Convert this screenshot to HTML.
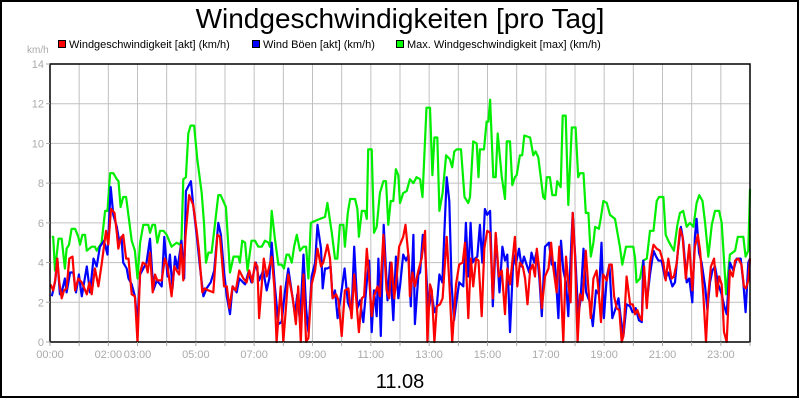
<!DOCTYPE html>
<html><head><meta charset="utf-8"><style>
html,body{margin:0;padding:0;background:#fff;}
svg{display:block;font-family:"Liberation Sans",sans-serif;}
</style></head><body>
<svg id="chart" width="800" height="400" viewBox="0 0 800 400" xmlns="http://www.w3.org/2000/svg">
<rect x="0" y="0" width="800" height="400" fill="#fff"/>
<rect x="1" y="1" width="797" height="396" fill="none" stroke="#000" stroke-width="2"/>
<text x="400" y="28" font-size="28" text-anchor="middle" fill="#000">Windgeschwindigkeiten [pro Tag]</text>
<g font-size="11" fill="#000">
 <g><rect x="58.5" y="40.5" width="7" height="7" fill="#f00" stroke="#000"/><text x="69" y="48">Windgeschwindigkeit [akt] (km/h)</text></g>
 <g><rect x="252.5" y="40.5" width="7" height="7" fill="#00f" stroke="#000"/><text x="263" y="48">Wind Böen [akt] (km/h)</text></g>
 <g><rect x="396.5" y="40.5" width="7" height="7" fill="#0f0" stroke="#000"/><text x="407" y="48">Max. Windgeschwindigkeit [max] (km/h)</text></g>
</g>
<text x="27" y="53" font-size="10" fill="#aaa">km/h</text>
<g id="grid"></g>
<g id="series"></g>
<rect x="50" y="64" width="700" height="278" fill="none" stroke="#000" stroke-width="1.5"/>
<g id="axes"></g>
<text x="400" y="388" font-size="20" text-anchor="middle" fill="#000">11.08</text>
</svg>
<script>
const yTicks=[0,2,4,6,8,10,12,14];
const xTickHours=[0,2,3,5,7,9,11,13,15,17,19,21,23];
const xTickLabels=["00:00","02:00","03:00","05:00","07:00","09:00","11:00","13:00","15:00","17:00","19:00","21:00","23:00"];
const maxTimes=[0.06,0.11,0.17,0.29,0.4,0.51,0.57,0.65,0.74,0.86,0.97,1.03,1.11,1.2,1.26,1.43,1.54,1.6,1.77,1.89,1.97,2.06,2.17,2.29,2.35,2.42,2.51,2.61,2.8,2.91,3.0,3.09,3.2,3.37,3.43,3.51,3.6,3.68,3.77,3.89,4.0,4.17,4.34,4.46,4.51,4.57,4.66,4.74,4.82,4.94,5.05,5.2,5.28,5.35,5.43,5.54,5.66,5.77,5.85,6.03,6.17,6.29,6.46,6.51,6.59,6.69,6.77,6.91,7.03,7.14,7.26,7.37,7.49,7.54,7.6,7.71,7.83,7.94,8.02,8.11,8.19,8.29,8.37,8.46,8.57,8.69,8.78,8.86,8.94,9.09,9.26,9.43,9.51,9.66,9.77,9.85,9.94,10.06,10.11,10.21,10.29,10.46,10.54,10.59,10.69,10.8,10.86,10.91,11.03,11.11,11.2,11.31,11.43,11.52,11.6,11.68,11.77,11.86,11.94,12.0,12.11,12.23,12.34,12.46,12.57,12.69,12.77,12.91,13.03,13.11,13.18,13.28,13.35,13.46,13.58,13.71,13.79,13.86,13.94,14.09,14.21,14.34,14.4,14.51,14.63,14.69,14.74,14.88,14.97,15.03,15.09,15.2,15.28,15.35,15.49,15.6,15.66,15.77,15.85,15.94,16.0,16.11,16.19,16.26,16.46,16.57,16.65,16.74,16.91,16.97,17.03,17.14,17.22,17.34,17.39,17.51,17.58,17.68,17.77,17.89,18.02,18.11,18.17,18.29,18.37,18.46,18.54,18.63,18.69,18.82,18.89,18.97,19.09,19.2,19.37,19.54,19.62,19.75,20.0,20.06,20.11,20.23,20.34,20.46,20.57,20.69,20.8,20.88,21.03,21.11,21.2,21.31,21.39,21.51,21.6,21.71,21.83,21.94,22.06,22.17,22.26,22.37,22.46,22.57,22.69,22.8,22.94,23.03,23.18,23.31,23.49,23.58,23.77,23.85,23.94,24.0];
const maxValues=[5.3,5.3,3.6,5.2,5.2,3.7,4.7,4.9,5.7,5.7,5.3,4.9,5.4,5.4,4.6,4.8,4.8,4.6,5.0,6.6,6.6,8.5,8.5,8.2,8.1,6.8,7.3,7.3,5.1,4.6,3.2,5.0,5.9,5.9,5.5,5.9,5.9,5.0,5.6,5.6,5.4,4.8,5.0,4.9,5.2,8.2,8.3,10.5,10.9,10.9,9.2,7.5,6.0,4.0,4.5,4.5,6.0,7.4,7.4,6.8,3.5,4.3,4.3,4.0,5.1,5.0,3.6,5.1,5.1,4.8,4.8,5.1,5.0,4.8,6.6,5.2,3.9,3.9,3.7,4.4,4.4,4.0,4.8,5.4,4.6,4.8,4.8,3.2,6.0,6.1,6.2,6.3,7.0,5.5,4.2,4.2,5.9,5.9,4.8,6.5,7.2,7.2,6.7,5.3,6.6,6.6,6.2,9.7,9.7,5.5,5.8,7.5,8.1,8.1,5.9,7.1,7.1,8.7,8.4,7.0,7.5,7.6,8.2,8.0,8.3,8.2,7.3,11.8,11.8,8.4,10.3,10.3,6.6,7.5,9.4,9.2,8.8,9.6,9.7,9.7,7.3,7.0,7.3,10.1,10.0,8.3,9.7,9.7,11.1,11.1,12.2,8.3,8.3,10.5,8.3,7.2,10.1,10.1,7.9,8.3,8.4,9.4,9.4,10.4,10.3,9.4,9.6,9.3,7.3,7.2,8.3,8.3,7.4,7.4,8.1,7.8,11.4,11.4,6.9,10.8,10.8,8.3,8.5,8.5,6.5,6.5,4.3,5.0,5.8,5.7,6.3,7.1,7.0,6.4,6.2,4.8,3.9,4.8,4.8,4.2,3.0,3.2,4.1,4.2,5.6,5.6,7.1,7.3,7.3,5.4,5.1,4.8,4.6,5.9,6.5,6.6,5.8,6.0,5.8,7.0,7.4,7.1,6.0,4.3,5.9,6.6,6.6,6.0,2.4,4.4,4.6,5.3,5.3,4.3,4.6,7.7];
const gustTimes=[0.06,0.17,0.25,0.34,0.4,0.51,0.57,0.69,0.8,0.89,0.99,1.09,1.26,1.37,1.49,1.6,1.71,1.85,1.97,2.08,2.17,2.29,2.37,2.45,2.51,2.63,2.69,2.8,2.91,3.0,3.09,3.2,3.31,3.43,3.54,3.66,3.83,3.92,4.03,4.11,4.2,4.29,4.37,4.51,4.6,4.66,4.83,4.91,5.05,5.14,5.26,5.37,5.51,5.63,5.77,5.86,5.97,6.06,6.17,6.26,6.4,6.49,6.69,6.8,6.91,7.06,7.17,7.31,7.43,7.52,7.6,7.71,7.83,7.94,8.06,8.17,8.29,8.4,8.48,8.57,8.69,8.78,8.86,8.97,9.09,9.17,9.29,9.35,9.43,9.51,9.62,9.69,9.77,9.86,9.97,10.1,10.21,10.34,10.43,10.54,10.63,10.74,10.86,10.94,11.03,11.11,11.2,11.26,11.34,11.44,11.57,11.66,11.77,11.86,11.94,12.0,12.11,12.21,12.29,12.37,12.46,12.51,12.63,12.69,12.78,12.86,12.97,13.09,13.18,13.26,13.35,13.45,13.6,13.69,13.77,13.85,13.94,14.03,14.17,14.26,14.34,14.42,14.49,14.57,14.65,14.74,14.82,14.91,14.99,15.09,15.18,15.29,15.41,15.51,15.6,15.68,15.77,15.89,15.97,16.08,16.17,16.25,16.34,16.43,16.51,16.6,16.69,16.78,16.86,16.97,17.11,17.2,17.31,17.43,17.52,17.6,17.69,17.77,17.85,17.92,18.02,18.11,18.19,18.29,18.38,18.51,18.61,18.72,18.82,18.91,18.99,19.09,19.18,19.28,19.37,19.49,19.57,19.66,19.77,19.89,19.97,20.08,20.19,20.29,20.34,20.46,20.57,20.69,20.78,20.86,20.97,21.09,21.2,21.34,21.43,21.52,21.63,21.71,21.83,21.92,22.02,22.11,22.17,22.25,22.34,22.46,22.54,22.63,22.71,22.8,22.91,23.03,23.12,23.2,23.31,23.43,23.54,23.68,23.77,23.85,23.94,24.0];
const gustValues=[2.3,3.0,4.2,2.4,2.5,3.2,2.5,3.5,3.5,2.5,3.4,2.3,3.8,2.5,4.2,3.8,4.8,5.1,4.4,7.8,6.4,5.8,5.1,5.3,4.0,3.7,3.2,2.9,2.3,1.0,3.4,3.7,4.0,5.2,2.6,3.1,2.8,5.3,3.3,4.4,2.7,4.3,3.7,5.1,3.2,7.6,8.1,6.9,5.1,3.8,2.3,2.7,3.0,3.6,6.0,5.4,3.5,2.3,1.4,2.8,2.5,3.2,2.9,3.5,3.0,4.0,3.1,3.6,2.6,3.2,5.0,2.8,0.9,1.0,2.6,3.7,2.5,1.4,2.4,1.0,4.4,1.7,0.5,3.3,4.0,5.9,4.7,2.7,3.7,3.7,3.8,2.2,2.6,1.2,2.3,3.7,2.0,1.5,4.8,1.7,2.1,1.0,3.0,4.1,0.5,2.6,1.3,4.2,0.3,5.9,2.1,4.0,1.1,4.3,2.2,2.8,4.4,4.1,4.4,1.8,5.4,0.9,3.4,3.5,5.4,4.6,1.6,2.4,1.5,1.8,3.4,3.0,8.3,7.1,2.9,1.1,2.1,3.0,2.8,6.0,3.3,6.0,4.0,4.2,4.3,5.9,4.0,6.7,6.4,6.6,1.8,5.3,2.5,4.8,4.1,4.4,0.5,4.4,3.9,4.7,3.8,4.3,3.9,3.5,4.5,4.0,4.6,3.2,1.3,4.8,5.0,3.9,4.0,1.2,5.1,3.6,3.0,1.3,4.2,6.5,4.0,1.3,2.1,4.7,2.5,2.0,0.8,2.6,2.4,5.0,1.2,3.3,3.9,1.2,1.6,2.2,1.2,0.3,1.9,1.8,1.5,1.7,1.1,1.0,4.1,2.0,3.4,4.6,4.3,4.1,4.1,3.2,3.5,2.8,3.0,4.5,5.8,5.1,3.0,3.2,2.0,5.3,6.2,4.5,4.0,2.8,1.6,3.0,3.6,3.8,2.9,2.4,1.8,1.4,4.0,3.6,4.2,4.2,3.0,1.5,4.0,4.2];
const speedTimes=[0.02,0.11,0.19,0.25,0.32,0.4,0.48,0.57,0.66,0.77,0.86,0.97,1.09,1.18,1.26,1.35,1.43,1.54,1.66,1.77,1.92,2.0,2.09,2.21,2.29,2.34,2.42,2.51,2.61,2.69,2.8,2.91,3.0,3.09,3.18,3.29,3.35,3.43,3.52,3.6,3.68,3.83,3.94,4.03,4.17,4.26,4.34,4.43,4.49,4.57,4.65,4.77,4.91,5.03,5.11,5.22,5.31,5.43,5.6,5.74,5.83,5.97,6.06,6.15,6.26,6.37,6.49,6.63,6.74,6.83,6.94,7.03,7.11,7.17,7.33,7.43,7.6,7.69,7.77,7.91,8.0,8.11,8.17,8.32,8.43,8.51,8.6,8.69,8.78,8.86,8.97,9.09,9.17,9.29,9.37,9.51,9.6,9.69,9.81,9.89,10.0,10.11,10.23,10.34,10.43,10.51,10.59,10.69,10.77,10.86,10.94,11.03,11.11,11.23,11.31,11.43,11.54,11.63,11.71,11.8,11.89,11.97,12.0,12.11,12.19,12.29,12.34,12.43,12.51,12.63,12.74,12.86,12.94,13.03,13.09,13.18,13.26,13.37,13.46,13.6,13.69,13.79,13.92,14.03,14.15,14.23,14.34,14.43,14.51,14.61,14.69,14.8,14.89,14.99,15.09,15.18,15.28,15.39,15.49,15.6,15.68,15.77,15.94,16.02,16.11,16.21,16.29,16.37,16.46,16.55,16.63,16.69,16.78,16.86,16.97,17.09,17.18,17.26,17.37,17.46,17.54,17.6,17.69,17.77,17.85,17.92,18.0,18.09,18.17,18.26,18.37,18.46,18.54,18.63,18.74,18.82,18.89,18.97,19.09,19.18,19.26,19.34,19.43,19.52,19.6,19.66,19.77,19.89,19.98,20.06,20.14,20.21,20.29,20.37,20.46,20.57,20.69,20.8,20.91,21.03,21.11,21.2,21.31,21.39,21.49,21.6,21.69,21.8,21.92,22.02,22.11,22.21,22.29,22.4,22.49,22.57,22.66,22.77,22.86,22.94,23.03,23.11,23.2,23.31,23.41,23.49,23.6,23.71,23.79,23.86,23.94,24.0];
const speedValues=[2.9,2.6,3.2,4.2,3.0,2.2,2.6,2.7,4.2,4.3,2.6,3.2,3.0,2.7,2.4,3.0,2.4,3.7,2.8,3.9,5.6,4.9,6.7,6.5,5.5,4.7,5.2,5.4,4.2,4.2,2.4,2.3,0,3.5,4.0,3.9,3.5,4.5,2.5,3.4,3.1,3.1,4.2,3.8,2.3,3.8,3.6,3.4,4.9,3.1,5.4,7.4,6.9,5.6,4.6,2.5,2.7,2.6,2.5,5.4,5.3,2.8,2.8,1.7,2.8,2.6,3.6,3.2,3.0,3.6,3.0,4.0,3.8,1.2,4.2,3.3,4.3,2.8,0,2.8,0,2.1,3.4,2.2,0.9,2.8,0,3.4,0,0.2,2.9,3.6,4.7,3.8,4.0,4.9,4.2,2.2,2.4,2.1,0.3,2.6,2.7,1.2,3.4,2.0,0.5,2.2,2.3,4.7,3.3,1.3,2.3,2.8,2.3,5.4,2.6,2.2,4.0,2.2,3.3,4.8,4.9,5.3,5.9,4.3,2.3,3.5,2.8,3.6,4.2,5.6,0,2.9,2.6,0,1.8,1.9,2.2,5.3,3.0,0,2.9,3.9,4.0,5.0,1.2,4.2,2.8,4.2,4.1,1.3,4.7,5.6,5.5,2.2,5.5,3.3,3.6,1.4,3.7,2.9,5.3,2.8,4.0,3.8,3.2,1.9,3.6,3.9,3.3,4.7,3.6,1.7,3.3,3.7,5.0,3.7,2.5,4.8,2.0,0,4.3,3.0,2.0,6.5,4.3,0,2.4,2.1,4.6,2.7,1.2,3.2,3.6,2.4,1.0,3.4,3.1,3.9,3.9,2.3,1.7,1.6,0,0.3,3.3,1.9,1.9,1.4,1.6,1.3,1.1,3.8,1.7,4.0,4.9,4.7,4.6,4.0,3.1,4.2,3.2,3.3,4.0,5.7,5.3,3.2,4.9,2.6,4.8,5.4,4.6,2.4,0,2.4,3.8,4.2,2.3,3.3,2.9,0.5,0,3.6,3.3,4.1,4.2,3.9,2.8,2.7,3.1,4.2];

const NS="http://www.w3.org/2000/svg";
const X0=50,X1=750,Y0=342,Y1=64,YMAX=14,HMAX=24;
function xScale(h){return X0+(X1-X0)*h/HMAX;}
function yScale(v){return Y0-(Y0-Y1)*v/YMAX;}
function mk(tag,attrs,parent){const e=document.createElementNS(NS,tag);for(const k in attrs)e.setAttribute(k,attrs[k]);parent.appendChild(e);return e;}
const grid=document.getElementById('grid'),axes=document.getElementById('axes'),series=document.getElementById('series');
for(let h=1;h<HMAX;h++){
  const l=mk('line',{x1:xScale(h),x2:xScale(h),y1:Y1,y2:Y0,stroke:'#c0c0c0','stroke-width':1},grid);
  
  
}
for(let h=0;h<=HMAX;h++){
  const t=mk('line',{x1:xScale(h),x2:xScale(h),y1:Y0,y2:Y0+4,stroke:'#aaa','stroke-width':1},axes);
  
  
}
yTicks.forEach(v=>{
  if(v>0&&v<YMAX){
    const l=mk('line',{x1:X0,x2:X1,y1:yScale(v),y2:yScale(v),stroke:'#c0c0c0','stroke-width':1},grid);
    
    
  }
  const tk=mk('line',{x1:X0-4,x2:X0,y1:yScale(v),y2:yScale(v),stroke:'#aaa','stroke-width':1},axes);
  
  
  const t=mk('text',{x:X0-6,y:yScale(v)+4,'font-size':11,'text-anchor':'end',fill:'#aaa'},axes);
  t.textContent=v;
  
  
});
xTickHours.forEach((h,i)=>{
  const t=mk('text',{x:xScale(h),y:358,'font-size':11,'text-anchor':'middle',fill:'#aaa'},axes);
  t.textContent=xTickLabels[i];
  
  
});
function line(times,vals,color,name){
  const d=times.map((h,i)=>(i?'L':'M')+xScale(h).toFixed(1)+' '+yScale(vals[i]).toFixed(1)).join(' ');
  const p=mk('path',{d:d,fill:'none',stroke:color,'stroke-width':2.2,'stroke-linejoin':'round'},series);
  
  
}
line(maxTimes,maxValues,'#00ee00','max-speed-line');
line(gustTimes,gustValues,'#0000ff','gust-line');
line(speedTimes,speedValues,'#ff0000','speed-line');
</script>
</body></html>
